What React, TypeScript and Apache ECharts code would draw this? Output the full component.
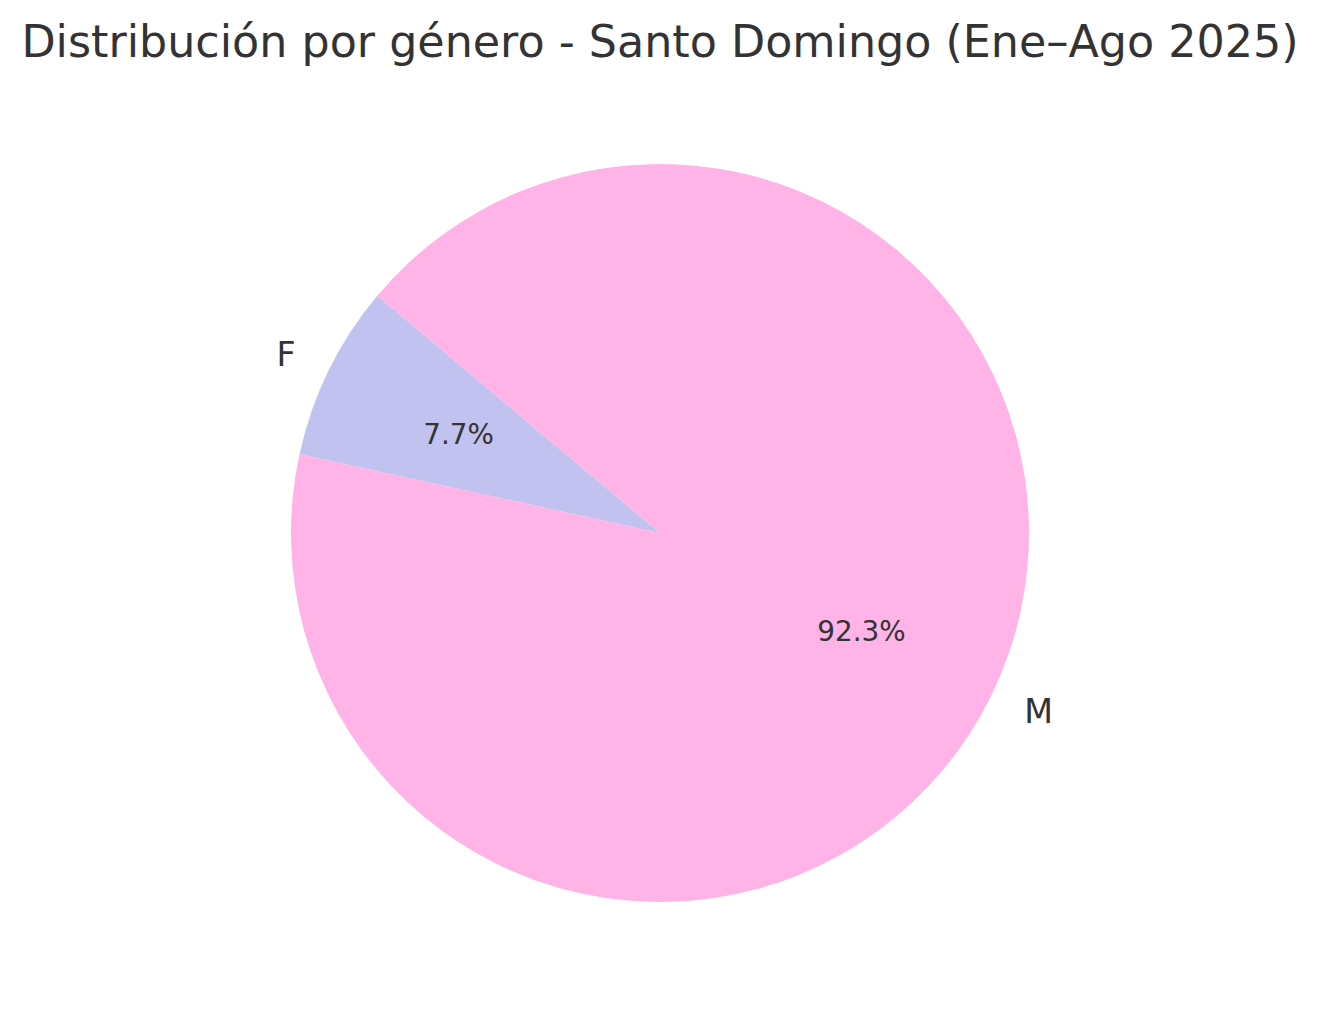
import React, { useEffect, useRef } from "react";
import * as echarts from "echarts";

const TITLE = "Distribución por género - Santo Domingo (Ene–Ago 2025)";
const categories = ["F", "M"];
const values = [1, 12];
const colors = ["#c2c2f0", "#ffb3e6"];

const R = 369;
const CX = 660;
const CY = 533;

export default function App() {
  const ref = useRef<HTMLDivElement>(null);
  useEffect(() => {
    document.body.style.margin = "0";
    const chart = echarts.init(ref.current!, null, { renderer: "svg" });
    const data = categories.map((c, i) => ({
      name: c,
      value: values[i],
      itemStyle: { color: colors[i] },
    }));
    chart.setOption({
      animation: false,
      backgroundColor: "#ffffff",
      title: {
        text: TITLE,
        left: "center",
        top: 14,
        textStyle: {
          fontFamily: "DejaVu Sans",
          fontSize: 44.4,
          fontWeight: "normal",
          color: "#333333",
          lineHeight: 44,
        },
      },
      series: [
        {
          type: "pie",
          center: [CX, CY],
          radius: [0, R],
          startAngle: 140,
          clockwise: false,
          avoidLabelOverlap: false,
          silent: true,
          data,
          label: {
            show: true,
            position: "outside",
            formatter: "{b}",
            fontFamily: "DejaVu Sans",
            fontSize: 33.3,
            color: "#333333",
            distanceToLabelLine: 0,
          },
          labelLine: { show: false, length: R * 0.1, length2: 0 },
        },
        {
          type: "pie",
          center: [CX, CY],
          radius: [R * 0.2, R],
          startAngle: 140,
          clockwise: false,
          avoidLabelOverlap: false,
          silent: true,
          percentPrecision: 1,
          data: categories.map((c, i) => ({
            name: c,
            value: values[i],
            itemStyle: { color: "rgba(0,0,0,0)" },
          })),
          label: {
            show: true,
            position: "inside",
            formatter: "{d}%",
            fontFamily: "DejaVu Sans",
            fontSize: 27.8,
            color: "#333333",
          },
          labelLine: { show: false },
        },
      ],
    });
    return () => chart.dispose();
  }, []);
  return (
    <div
      ref={ref}
      style={{ position: "absolute", left: 0, top: 0, width: 1320, height: 1016 }}
    />
  );
}
